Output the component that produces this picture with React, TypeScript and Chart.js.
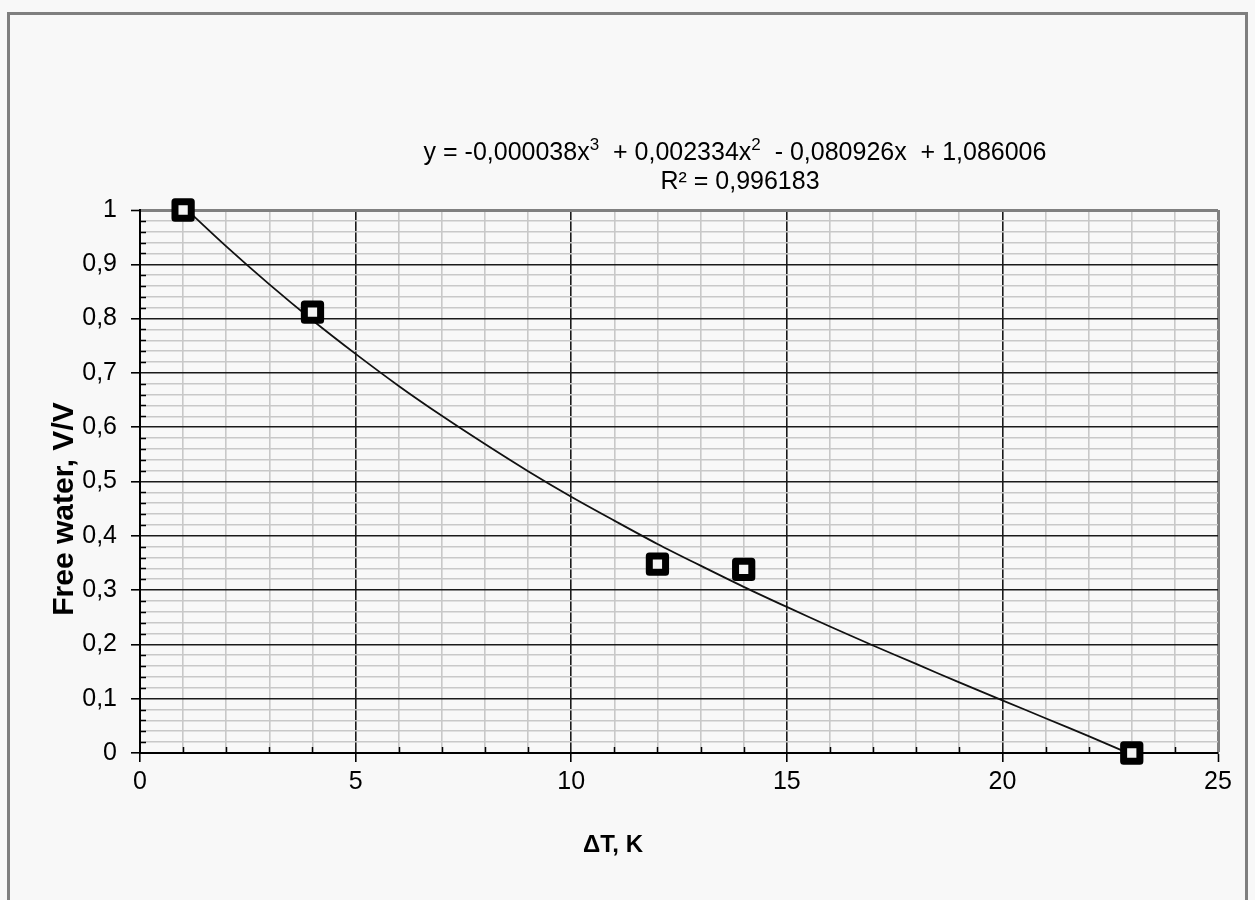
import React, { useEffect, useRef } from 'react';
import { Chart, registerables } from 'chart.js';

Chart.register(...registerables);

// Measured points (ΔT, free water fraction)
const measuredX = [1, 4, 12, 14, 23];
const measuredY = [1.0, 0.812, 0.348, 0.338, 0.0];

// Trend line
const trendX = [1, 2, 3, 4, 5, 6, 7, 8, 9, 10, 11, 12, 13, 14, 15, 16, 17, 18, 19, 20, 21, 22, 23];
const trendY = [1.007, 0.933, 0.863, 0.797, 0.735, 0.676, 0.621, 0.569, 0.519, 0.472, 0.428, 0.385, 0.345, 0.306, 0.269, 0.233, 0.198, 0.164, 0.130, 0.097, 0.064, 0.031, -0.003];

const xTickLabels = ['0', '5', '10', '15', '20', '25'];
const yTickLabels = ['0', '0,1', '0,2', '0,3', '0,4', '0,5', '0,6', '0,7', '0,8', '0,9', '1'];

// Trend-line equation: text pieces, and whether each one is a superscript
const equationParts = ['y = -0,000038x', '3', '  + 0,002334x', '2', '  - 0,080926x  + 1,086006'];
const equationSuper = [false, true, false, true, false];
const r2Line = 'R² = 0,996183';
const xTitle = 'ΔT, K';
const yTitle = 'Free water, V/V';

const FONT = "'Liberation Sans', Arial, sans-serif";

const isMajorX = (v: number) => Math.round(v) % 5 === 0;
const isMajorY = (v: number) => Math.round(v * 50) % 5 === 0;

const decorPlugin = {
  id: 'decor',
  beforeDatasetsDraw(chart: any) {
    const { ctx, chartArea, scales } = chart;
    ctx.save();
    ctx.strokeStyle = '#000';
    ctx.lineWidth = 1.5;
    ctx.beginPath();
    for (let i = 1; i < 25; i++) {
      if (i % 5 === 0) continue;
      const px = Math.round(scales.x.getPixelForValue(i)) + 0.5;
      ctx.moveTo(px, chartArea.bottom);
      ctx.lineTo(px, chartArea.bottom - 6);
    }
    for (let j = 1; j < 50; j++) {
      if (j % 5 === 0) continue;
      const py = Math.round(scales.y.getPixelForValue(j / 50)) + 0.5;
      ctx.moveTo(chartArea.left, py);
      ctx.lineTo(chartArea.left + 6, py);
    }
    ctx.stroke();
    ctx.restore();
  },
  beforeDatasetDraw(chart: any, args: any) {
    if (args.index === 0) chart.ctx.lineJoin = 'round';
  },
  afterDatasetDraw(chart: any, args: any) {
    if (args.index === 0) chart.ctx.lineJoin = 'miter';
  },
  afterDraw(chart: any) {
    const { ctx } = chart;
    ctx.save();
    ctx.fillStyle = '#000';
    ctx.textBaseline = 'alphabetic';
    const normalFont = `25px ${FONT}`;
    const supFont = `17px ${FONT}`;
    let total = 0;
    const widths = equationParts.map((p, i) => {
      ctx.font = equationSuper[i] ? supFont : normalFont;
      const w = ctx.measureText(p).width;
      total += w;
      return w;
    });
    let xPos = 735 - total / 2;
    ctx.textAlign = 'left';
    equationParts.forEach((p, i) => {
      ctx.font = equationSuper[i] ? supFont : normalFont;
      ctx.fillText(p, xPos, equationSuper[i] ? 150 : 160);
      xPos += widths[i];
    });
    ctx.textAlign = 'center';
    ctx.font = normalFont;
    ctx.fillText(r2Line, 740, 189);
    ctx.font = `bold 24px ${FONT}`;
    ctx.fillText(xTitle, 613, 852);
    ctx.translate(73, 509);
    ctx.rotate(-Math.PI / 2);
    ctx.font = `bold 30px ${FONT}`;
    ctx.fillText(yTitle, 0, 0);
    ctx.restore();
  },
};

export default function App() {
  const canvasRef = useRef<HTMLCanvasElement | null>(null);

  useEffect(() => {
    if (!canvasRef.current) return;
    const pointData = measuredX.map((x, i) => ({ x, y: measuredY[i] }));
    const trendData = trendX.map((x, i) => ({ x, y: trendY[i] }));

    const chart = new Chart(canvasRef.current, {
      type: 'scatter',
      data: {
        datasets: [
          {
            label: 'Measured',
            data: pointData,
            pointStyle: 'rect',
            pointRadius: 11.5,
            pointHoverRadius: 11.5,
            borderWidth: 7,
            borderColor: '#000',
            backgroundColor: '#f4f4f4',
            clip: false,
          } as any,
          {
            label: 'Trend',
            data: trendData,
            showLine: true,
            pointRadius: 0,
            borderColor: '#111',
            borderWidth: 1.8,
            tension: 0.3,
            fill: false,
            clip: false,
          } as any,
        ],
      },
      plugins: [decorPlugin],
      options: {
        animation: false,
        responsive: false,
        maintainAspectRatio: false,
        events: [],
        layout: { padding: { left: 40, top: 210, right: 37, bottom: 0 } },
        plugins: {
          legend: { display: false },
          tooltip: { enabled: false },
          title: { display: false },
        },
        scales: {
          x: {
            type: 'linear',
            min: 0,
            max: 25,
            afterFit: (s: any) => {
              s.height = 147;
            },
            border: { color: '#000', width: 2 },
            grid: {
              color: (c: any) => {
                const v = c.tick ? c.tick.value : 0;
                if (v >= 25) return '#808080';
                return isMajorX(v) ? '#1a1a1a' : '#c8c8c8';
              },
              lineWidth: (c: any) => {
                const v = c.tick ? c.tick.value : 0;
                if (v >= 25) return 3;
                return 1.6;
              },
              tickLength: 9,
              tickColor: (c: any) => {
                const v = c.tick ? c.tick.value : 0;
                return isMajorX(v) ? '#000' : 'rgba(0,0,0,0)';
              },
              tickWidth: 1.6,
            },
            ticks: {
              stepSize: 1,
              autoSkip: false,
              maxRotation: 0,
              padding: 5,
              color: '#000',
              font: { family: FONT, size: 25 },
              callback: (v: any) => {
                const i = Math.round(Number(v));
                return i % 5 === 0 ? xTickLabels[i / 5] : '';
              },
            },
          },
          y: {
            type: 'linear',
            min: 0,
            max: 1,
            afterFit: (s: any) => {
              s.width = 100;
            },
            border: { color: '#000', width: 2 },
            grid: {
              color: (c: any) => {
                const v = c.tick ? c.tick.value : 0;
                if (v >= 0.999) return '#808080';
                return isMajorY(v) ? '#1a1a1a' : '#c8c8c8';
              },
              lineWidth: (c: any) => {
                const v = c.tick ? c.tick.value : 0;
                if (v >= 0.999) return 3;
                return 1.6;
              },
              tickLength: 9,
              tickColor: (c: any) => {
                const v = c.tick ? c.tick.value : 0;
                return isMajorY(v) ? '#000' : 'rgba(0,0,0,0)';
              },
              tickWidth: 1.6,
            },
            ticks: {
              stepSize: 0.02,
              autoSkip: false,
              padding: 14,
              color: '#000',
              font: { family: FONT, size: 25 },
              callback: (v: any) => {
                const j = Math.round(Number(v) * 50);
                return j % 5 === 0 ? yTickLabels[j / 5] : '';
              },
            },
          },
        },
      } as any,
    });
    return () => chart.destroy();
  }, []);

  return (
    <div
      style={{
        position: 'fixed',
        left: 0,
        top: 0,
        width: 1255,
        height: 900,
        overflow: 'hidden',
        background: '#f8f8f8',
      }}
    >
      <div
        style={{
          position: 'absolute',
          left: 7,
          top: 12,
          width: 1241,
          height: 900,
          border: '3px solid #7f7f7f',
          boxSizing: 'border-box',
        }}
      />
      <canvas
        ref={canvasRef}
        width={1255}
        height={900}
        style={{ position: 'absolute', left: 0, top: 0, width: 1255, height: 900 }}
      />
    </div>
  );
}
